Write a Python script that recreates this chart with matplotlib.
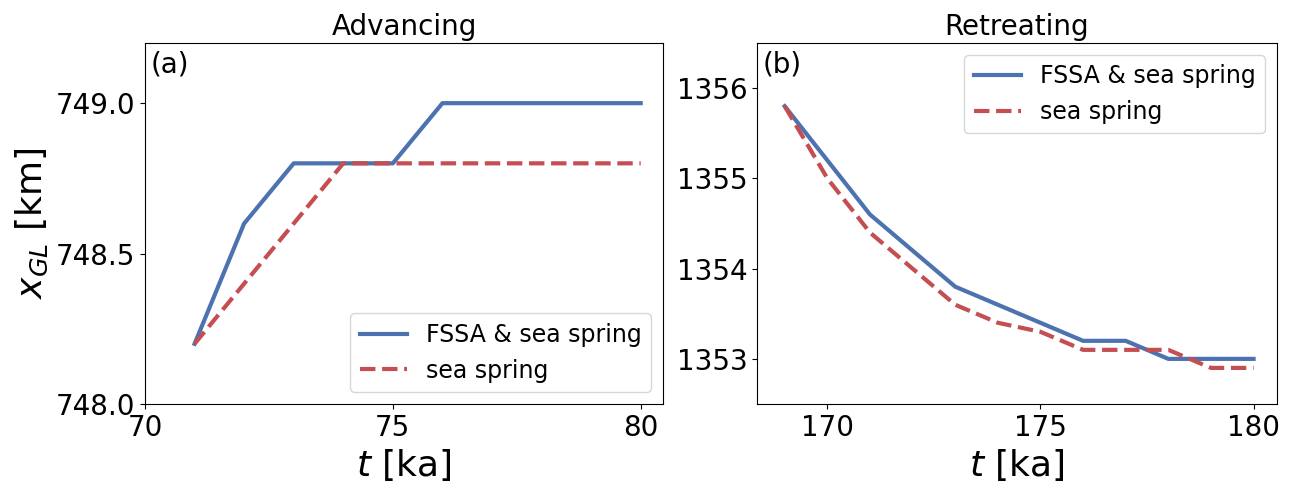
import numpy as np
import matplotlib
matplotlib.use('Agg')
import matplotlib.pyplot as plt

# advancing run
t_adv = [71, 72, 73, 74, 75, 76, 77, 78, 79, 80]
x_adv_fssa = [748.2, 748.6, 748.8, 748.8, 748.8, 749.0, 749.0, 749.0, 749.0, 749.0]
x_adv_sea = [748.2, 748.4, 748.6, 748.8, 748.8, 748.8, 748.8, 748.8, 748.8, 748.8]

# retreating run
t_ret = [169, 170, 171, 172, 173, 174, 175, 176, 177, 178, 179, 180]
x_ret_fssa = [1355.8, 1355.2, 1354.6, 1354.2, 1353.8, 1353.6, 1353.4, 1353.2, 1353.2, 1353.0, 1353.0, 1353.0]
x_ret_sea = [1355.8, 1355.0, 1354.4, 1354.0, 1353.6, 1353.4, 1353.3, 1353.1, 1353.1, 1353.1, 1352.9, 1352.9]

blue = '#4C72B0'
red = '#C44E52'

fig = plt.figure(figsize=(12.92, 4.94), dpi=100)
ax1 = fig.add_axes([145/1292, 1 - 404/494, 518/1292, 361/494])
ax2 = fig.add_axes([757/1292, 1 - 404/494, 520/1292, 361/494])

ax1.plot(t_adv, x_adv_fssa, color=blue, lw=3, label='FSSA & sea spring')
ax1.plot(t_adv, x_adv_sea, color=red, lw=3, ls='--', label='sea spring')
ax1.set_xlim(70, 80.45)
ax1.set_ylim(748.0, 749.2)
ax1.set_yticks([748.0, 748.5, 749.0])
ax1.set_xticks([70, 75, 80])
ax1.set_title('Advancing', fontsize=20)
ax1.set_xlabel(r'$t$ [ka]', fontsize=26)
ax1.set_ylabel(r'$x_{GL}$ [km]', fontsize=26)
ax1.tick_params(labelsize=20)
ax1.text(0.01, 0.98, '(a)', transform=ax1.transAxes, fontsize=20, va='top', ha='left')
ax1.legend(loc='lower right', fontsize=17)

ax2.plot(t_ret, x_ret_fssa, color=blue, lw=3, label='FSSA & sea spring')
ax2.plot(t_ret, x_ret_sea, color=red, lw=3, ls='--', label='sea spring')
ax2.set_xlim(168.35, 180.55)
ax2.set_ylim(1352.5, 1356.5)
ax2.set_yticks([1353, 1354, 1355, 1356])
ax2.set_xticks([170, 175, 180])
ax2.set_title('Retreating', fontsize=20)
ax2.set_xlabel(r'$t$ [ka]', fontsize=26)
ax2.tick_params(labelsize=20)
ax2.text(0.01, 0.98, '(b)', transform=ax2.transAxes, fontsize=20, va='top', ha='left')
ax2.legend(loc='upper right', fontsize=17)

fig.savefig('out.png', dpi=100)
